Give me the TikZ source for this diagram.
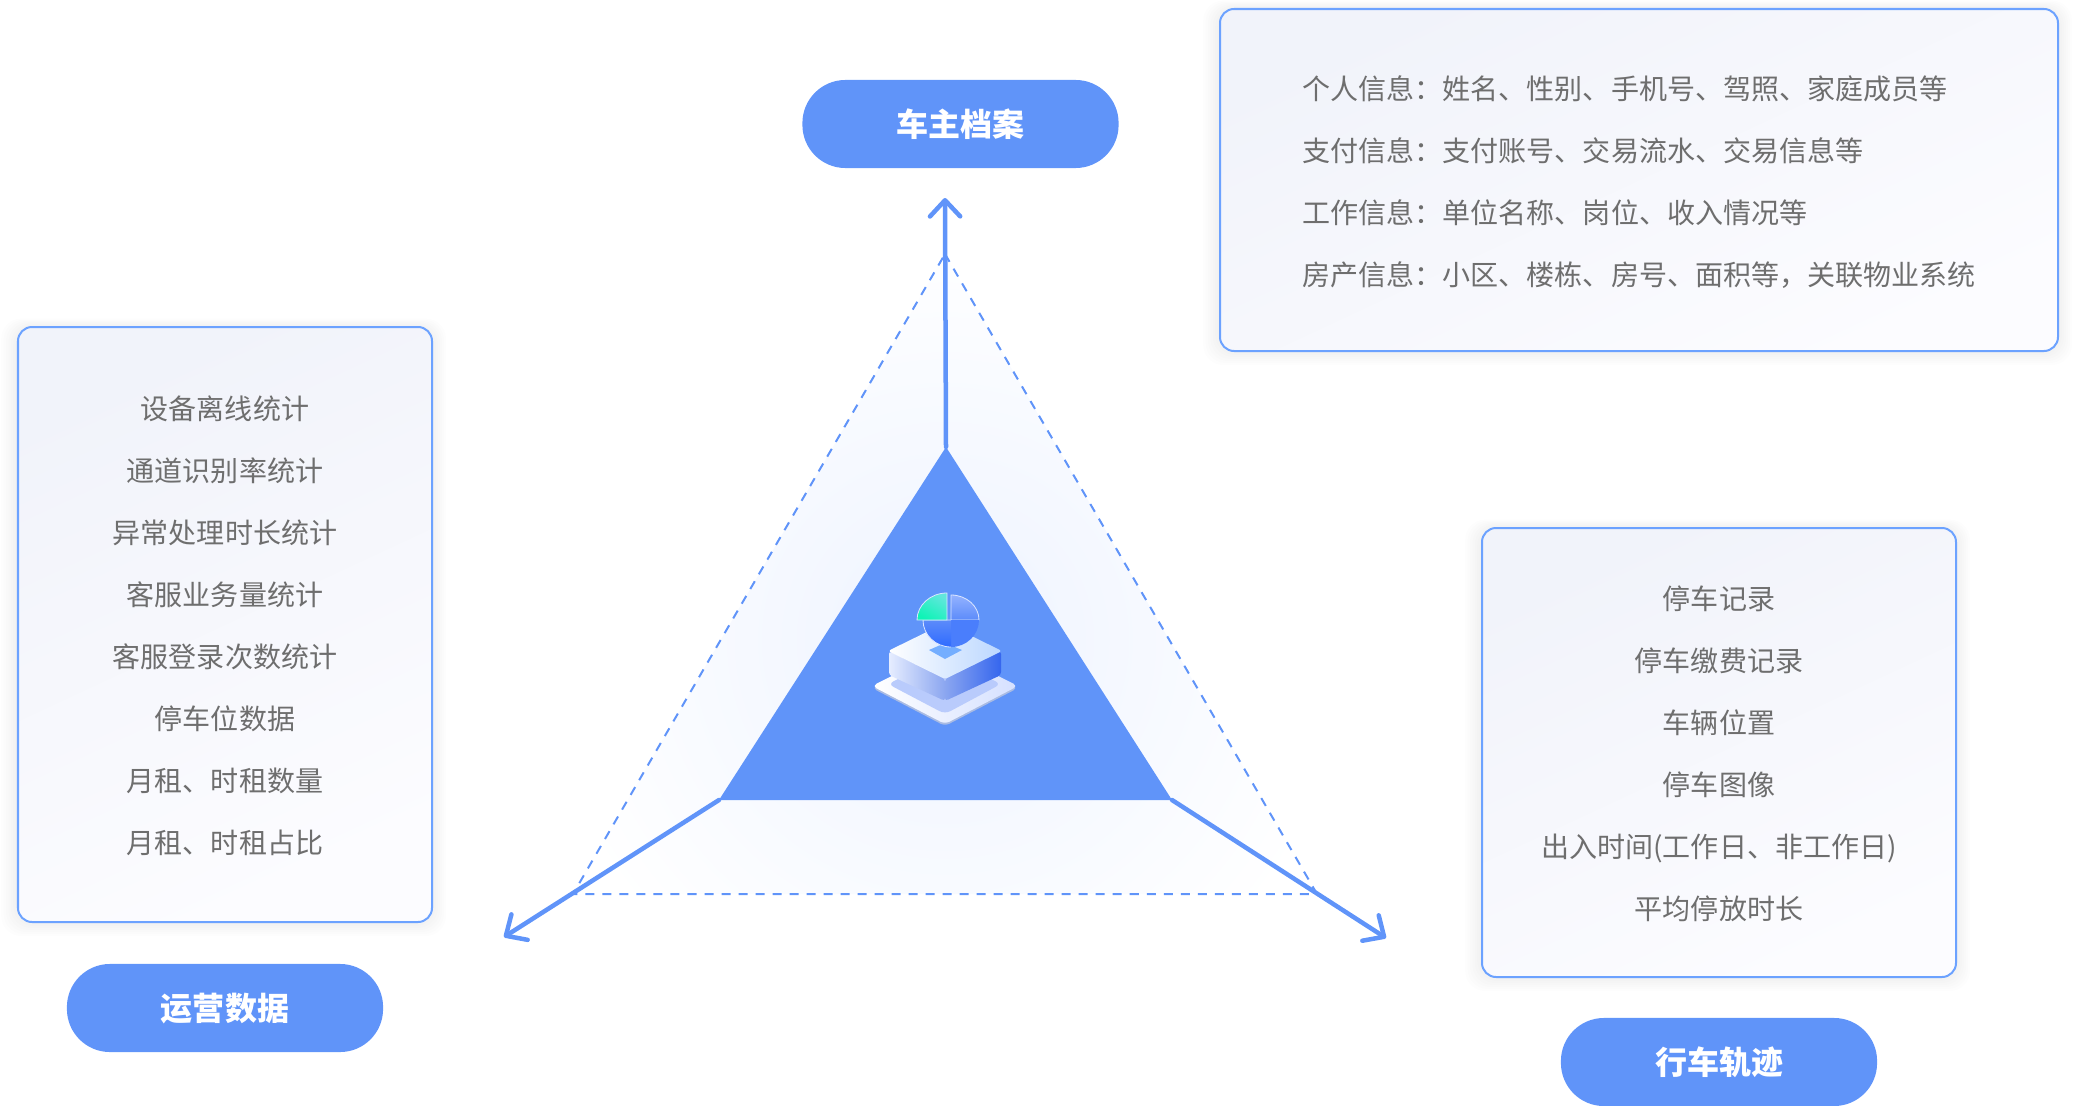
\documentclass[tikz,border=0pt]{standalone}
\usepackage{fontspec}
\setmainfont{Noto Sans CJK SC}
\usetikzlibrary{arrows.meta}
\definecolor{mainblue}{HTML}{6094F9}
\definecolor{edgeblue}{HTML}{6CA2FF}
\definecolor{boxtop}{HTML}{F1F3FA}
\definecolor{boxbottom}{HTML}{FCFCFF}
\definecolor{textgray}{HTML}{6E6E6E}
\definecolor{plateedge}{HTML}{A9BBE3}
\definecolor{plateright}{HTML}{D5E0FF}
\definecolor{platein}{HTML}{B9CBFC}
\definecolor{sidelight}{HTML}{E6EDFF}
\definecolor{sidemid}{HTML}{8BA6F0}
\definecolor{sidedark}{HTML}{3566EE}
\definecolor{topright}{HTML}{BBD7FF}
\definecolor{padblue}{HTML}{74AEFF}
\definecolor{pielight}{HTML}{93B2FF}
\definecolor{piemid}{HTML}{5C8BFA}
\definecolor{piedark}{HTML}{2F6BFF}
\definecolor{pieedge}{HTML}{DCE6FF}
\definecolor{wedgelight}{HTML}{62E6DC}
\definecolor{wedgedark}{HTML}{0EF4B6}
\tikzset{
    infobox/.style={draw=edgeblue,line width=0.02cm,rounded corners=0.14cm,top color=boxtop,bottom color=boxbottom,shading angle=25},
    pill/.style={fill=mainblue,text=white,font=\fontsize{9.1}{11}\selectfont\bfseries,rounded corners=0.43cm,minimum width=3.16cm,minimum height=0.88cm,inner sep=0pt,text height=8pt,text depth=1pt},
    infotext/.style={text=textgray,font=\fontsize{7.97}{10}\selectfont,inner sep=0pt,text height=7pt,text depth=1pt,yshift=-0.01cm},
    spoke/.style={draw=mainblue,line width=0.045cm,line cap=round,-{Straight Barb[round,length=4.6pt,width=8.6pt]}},
    guide/.style={draw=mainblue,line width=0.02cm,dash pattern=on 0.09cm off 0.08cm},
}
\newcommand{\softshadow}[4]{%
    \foreach \g in {1,...,7}{\fill[black,opacity=0.007,rounded corners=0.2cm] (#1-\g*2.4,#2-\g*1.2) rectangle (#3+\g*2,#4+\g*2);}}
\begin{document}
\begin{tikzpicture}[x=0.01cm,y=-0.01cm]
    \useasboundingbox (0,0) rectangle (2075,1106);
    % triangle corners
    \coordinate (apex) at (946,447);
    \coordinate (baseleft) at (719,800);
    \coordinate (baseright) at (1172,800);
    \coordinate (outertop) at (945,254);
    \coordinate (outerleft) at (573,894);
    \coordinate (outerright) at (1317,894);
    \coordinate (tiptop) at (945,198);
    \coordinate (tipleft) at (504,937);
    \coordinate (tipright) at (1386,938);
    % glow and dashed triangle
    \begin{scope}
        \clip (outertop) -- (outerright) -- (outerleft) -- cycle;
        \shade[inner color=mainblue!11,outer color=white] (945,640) circle (4.1cm);
    \end{scope}
    \draw[guide] (outertop) -- (outerright) -- (outerleft) -- cycle;
    % inner triangle
    \fill[mainblue] (apex) -- (baseright) -- (baseleft) -- cycle;
    % arrows
    \draw[spoke] (apex) -- (tiptop);
    \draw[spoke] (baseleft) -- (tipleft);
    \draw[spoke] (baseright) -- (tipright);
    % icon plate
    \fill[rounded corners=0.05cm,fill=plateedge] (872,688) -- (945,651) -- (1018,688) -- (945,726) -- cycle;
    \shade[rounded corners=0.05cm,left color=white,right color=plateright] (872,686) -- (945,649) -- (1018,686) -- (945,724) -- cycle;
    \fill[rounded corners=0.06cm,fill=platein] (888,684) -- (945,656) -- (1001,684) -- (945,714) -- cycle;
    % icon block
    \shade[rounded corners=0.03cm,left color=sidelight,right color=sidemid] (889,651) -- (945,679) -- (945,701) -- (889,675) -- cycle;
    \shade[rounded corners=0.03cm,left color=sidemid,right color=sidedark] (945,679) -- (1001,651) -- (1001,675) -- (945,701) -- cycle;
    \shade[rounded corners=0.03cm,left color=white,right color=topright] (888,651) -- (945,623) -- (1002,651) -- (945,679) -- cycle;
    \fill[padblue] (929,650) -- (945,643) -- (962,650) -- (945,659) -- cycle;
    % icon pie
    \coordinate (piecenter) at (951,620);
    \shade[draw=pieedge,line width=0.008cm,top color=pielight,bottom color=piemid] (piecenter) -- ++(0,-25) arc[start angle=90,end angle=0,x radius=0.28cm,y radius=0.25cm] -- cycle;
    \fill[piemid!60!piedark] (piecenter) -- ++(28,0) arc[start angle=0,end angle=-90,x radius=0.28cm,y radius=0.27cm] -- cycle;
    \shade[top color=piemid,bottom color=piedark] (piecenter) -- ++(0,27) arc[start angle=-90,end angle=-180,x radius=0.28cm,y radius=0.27cm] -- cycle;
    \draw[pieedge,line width=0.008cm] (951,647) arc[start angle=-90,end angle=-180,x radius=0.28cm,y radius=0.27cm] -- (piecenter);
    \shade[draw=pieedge,line width=0.008cm,top color=wedgelight,bottom color=wedgedark,shading angle=-30] (947,620) -- ++(-30,0) arc[start angle=180,end angle=90,x radius=0.3cm,y radius=0.27cm] -- cycle;
    % owner box
    \softshadow{1220}{9}{2058}{351}
    \draw[infobox] (1220,9) rectangle (2058,351);
    \node[infotext,anchor=west] (owner1) at (1302,88) {个人信息：姓名、性别、手机号、驾照、家庭成员等};
    \node[infotext,anchor=west] (owner2) at (1302,150) {支付信息：支付账号、交易流水、交易信息等};
    \node[infotext,anchor=west] (owner3) at (1302,212) {工作信息：单位名称、岗位、收入情况等};
    \node[infotext,anchor=west] (owner4) at (1302,274) {房产信息：小区、楼栋、房号、面积等，关联物业系统};
    \node[pill] (ownerpill) at (960.5,124) {车主档案};
    % operations box
    \softshadow{18}{327}{432}{922}
    \draw[infobox] (18,327) rectangle (432,922);
    \node[infotext] (ops1) at (225,408) {设备离线统计};
    \node[infotext] (ops2) at (225,470) {通道识别率统计};
    \node[infotext] (ops3) at (225,532) {异常处理时长统计};
    \node[infotext] (ops4) at (225,594) {客服业务量统计};
    \node[infotext] (ops5) at (225,656) {客服登录次数统计};
    \node[infotext] (ops6) at (225,718) {停车位数据};
    \node[infotext] (ops7) at (225,780) {月租、时租数量};
    \node[infotext] (ops8) at (225,842) {月租、时租占比};
    \node[pill] (opspill) at (225,1008) {运营数据};
    % track box
    \softshadow{1482}{528}{1956}{977}
    \draw[infobox] (1482,528) rectangle (1956,977);
    \node[infotext] (track1) at (1719,598) {停车记录};
    \node[infotext] (track2) at (1719,660) {停车缴费记录};
    \node[infotext] (track3) at (1719,722) {车辆位置};
    \node[infotext] (track4) at (1719,784) {停车图像};
    \node[infotext] (track5) at (1719,846) {出入时间(工作日、非工作日)};
    \node[infotext] (track6) at (1719,908) {平均停放时长};
    \node[pill] (trackpill) at (1719,1062) {行车轨迹};
\end{tikzpicture}
\end{document}
